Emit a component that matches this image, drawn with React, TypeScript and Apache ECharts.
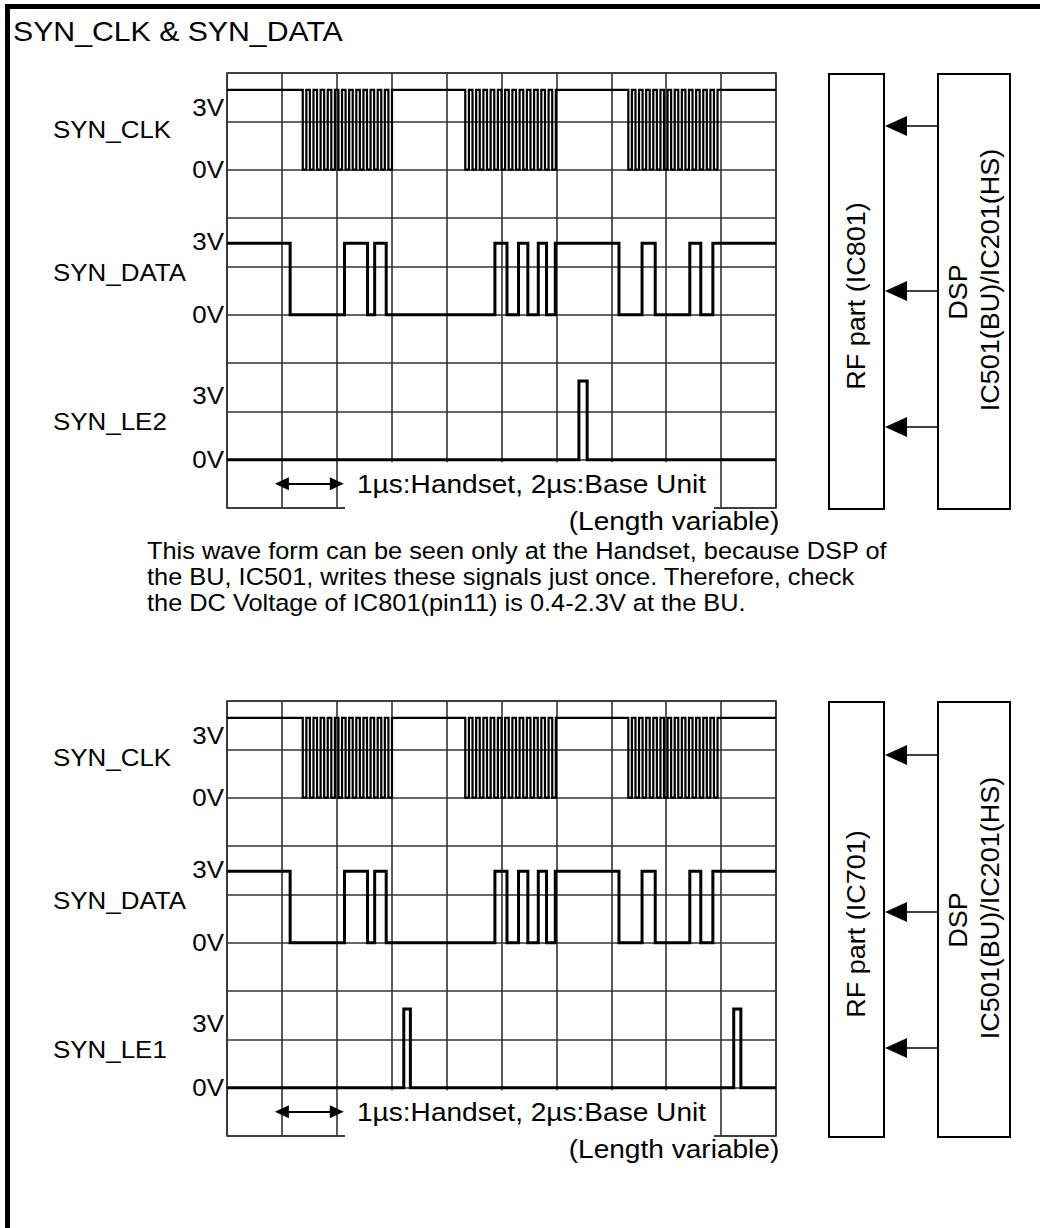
import React, { useEffect, useRef } from "react";
import * as echarts from "echarts";

// ---- data (time in grid divisions, levels in volts) ----
const timeRange = [0, 10];
const lowV = 0;
const highV = 3;
const clkBurst1 = [1.38, 1.445, 1.51, 1.575, 1.64, 1.705, 1.77, 1.835, 1.9, 1.965, 2.03, 2.095, 2.16, 2.225, 2.29, 2.355, 2.42, 2.485, 2.55, 2.615, 2.68, 2.745, 2.81, 2.875, 2.94, 3.005];
const clkBurst2 = [4.34, 4.406, 4.472, 4.538, 4.604, 4.67, 4.736, 4.802, 4.868, 4.934, 5.0, 5.066, 5.132, 5.198, 5.264, 5.33, 5.396, 5.462, 5.528, 5.594, 5.66, 5.726, 5.792, 5.858, 5.924, 5.99];
const clkBurst3 = [7.31, 7.375, 7.44, 7.505, 7.57, 7.635, 7.7, 7.765, 7.83, 7.895, 7.96, 8.025, 8.09, 8.155, 8.22, 8.285, 8.35, 8.415, 8.48, 8.545, 8.61, 8.675, 8.74, 8.805, 8.87, 8.935];
const clkEdges = [...clkBurst1, ...clkBurst2, ...clkBurst3];
const dataEdges = [1.15, 2.14, 2.56, 2.69, 2.9, 4.88, 5.1, 5.31, 5.48, 5.67, 5.82, 5.98, 7.14, 7.56, 7.8, 8.43, 8.63, 8.85];
const le2Edges = [6.41, 6.56];
const le1Edges = [3.22, 3.34, 9.23, 9.36];

const title = "SYN_CLK & SYN_DATA";
const voltLabels = ["3V", "0V"];
const timeNote = "1\u00b5s:Handset, 2\u00b5s:Base Unit";
const lengthNote = "(Length variable)";
const bodyLines = [
  "This wave form can be seen only at the Handset, because DSP of",
  "the BU, IC501, writes these signals just once. Therefore, check",
  "the DC Voltage of IC801(pin11) is 0.4-2.3V at the BU.",
];
const dspLines = ["DSP", "IC501(BU)/IC201(HS)"];

const panels = [
  {
    top: 73,
    rf: "RF part (IC801)",
    arrows: [126, 291, 427],
    signals: [
      { name: "SYN_CLK", edges: clkEdges, startHigh: true },
      { name: "SYN_DATA", edges: dataEdges, startHigh: true },
      { name: "SYN_LE2", edges: le2Edges, startHigh: false },
    ],
  },
  {
    top: 701,
    rf: "RF part (IC701)",
    arrows: [755, 912, 1048],
    signals: [
      { name: "SYN_CLK", edges: clkEdges, startHigh: true },
      { name: "SYN_DATA", edges: dataEdges, startHigh: true },
      { name: "SYN_LE1", edges: le1Edges, startHigh: false },
    ],
  },
];

// ---- layout ----
const FONT = '"Liberation Sans", Arial, Helvetica, sans-serif';
const SX = 1.08;
const GRID_LEFT = 227;
const GRID_W = 549;
const GRID_H = 435;
const ROWS = 9;
const ROW_H = GRID_H / ROWS;
// row where 0V and 3V sit for each of the three signals
const sigRows = [
  { r0: 7, r3: 8.65, nameDy: 56, v3Dy: 34 },
  { r0: 4, r3: 5.48, nameDy: 199, v3Dy: 168 },
  { r0: 1, r3: 2.63, nameDy: 348, v3Dy: 322 },
];
const GRID_COLOR = "#333";

function toSteps(edges: number[], startHigh: boolean) {
  let v = startHigh ? highV : lowV;
  const pts: number[][] = [[timeRange[0], v]];
  for (const t of edges) {
    pts.push([t, v]);
    v = v === highV ? lowV : highV;
    pts.push([t, v]);
  }
  pts.push([timeRange[1], v]);
  return pts;
}

function txt(text: string, x: number, y: number, size: number, align = "left", extra: any = {}) {
  return {
    type: "text",
    x,
    y,
    scaleX: SX,
    z: 120,
    silent: true,
    ...extra,
    style: {
      text,
      fontSize: size,
      fontFamily: FONT,
      fill: "#000",
      align,
      verticalAlign: "middle",
      textAlign: align,
      textVerticalAlign: "middle",
    },
  };
}

function buildOption() {
  const grids: any[] = [];
  const xAxes: any[] = [];
  const yAxes: any[] = [];
  const series: any[] = [];
  const graphics: any[] = [];

  // page border
  graphics.push({ type: "rect", shape: { x: 5, y: 4, width: 5, height: 1224 }, style: { fill: "#000" }, z: 130, silent: true });
  graphics.push({ type: "rect", shape: { x: 5, y: 4, width: 1035, height: 5 }, style: { fill: "#000" }, z: 130, silent: true });
  graphics.push(txt(title, 13, 31, 28));

  panels.forEach((p, pi) => {
    grids.push({
      left: GRID_LEFT,
      top: p.top,
      width: GRID_W,
      height: GRID_H,
      show: true,
      borderColor: GRID_COLOR,
      borderWidth: 1.6,
      backgroundColor: "transparent",
    });
    xAxes.push({
      type: "value",
      gridIndex: pi,
      min: timeRange[0],
      max: timeRange[1],
      interval: 1,
      axisLine: { show: false },
      axisTick: { show: false },
      axisLabel: { show: false },
      splitLine: { show: true, lineStyle: { color: GRID_COLOR, width: 1.6 } },
    });
    yAxes.push({
      type: "value",
      gridIndex: pi,
      min: 0,
      max: ROWS,
      interval: 1,
      axisLine: { show: false },
      axisTick: { show: false },
      axisLabel: { show: false },
      splitLine: { show: true, lineStyle: { color: GRID_COLOR, width: 1.6 } },
    });
    p.signals.forEach((s, si) => {
      const L = sigRows[si];
      const k = (highV - lowV) / (L.r3 - L.r0);
      const yIdx = yAxes.length;
      yAxes.push({
        type: "value",
        gridIndex: pi,
        show: false,
        min: -L.r0 * k,
        max: (ROWS - L.r0) * k,
        splitLine: { show: false },
      });
      const ser: any = {
        type: "line",
        name: s.name + (pi === 0 ? "" : " "),
        xAxisIndex: pi,
        yAxisIndex: yIdx,
        data: toSteps(s.edges, s.startHigh),
        showSymbol: false,
        symbol: "none",
        silent: true,
        z: 5,
        lineStyle: { color: "#000", width: si === 0 ? 2.2 : 3, join: "miter" },
      };
      if (si === 2) {
        const yArrow = (0.5 - L.r0) * k;
        ser.markLine = {
          silent: true,
          symbol: ["triangle", "triangle"],
          symbolSize: [13, 14],
          label: { show: false },
          lineStyle: { color: "#000", width: 2.2, type: "solid" },
          data: [[{ coord: [1, yArrow] }, { coord: [2, yArrow] }]],
        };
      }
      series.push(ser);

      // labels
      graphics.push(txt(s.name, 53, p.top + L.nameDy, 24));
      graphics.push(txt(voltLabels[0], 224, p.top + L.v3Dy, 24, "right"));
      graphics.push(txt(voltLabels[1], 224, p.top + (ROWS - L.r0) * ROW_H, 24, "right"));
    });

    // white area in bottom row hiding grid, with note
    graphics.push({
      type: "rect",
      shape: { x: 345, y: p.top + (ROWS - 1) * ROW_H + 2.5, width: 369, height: ROW_H + 3 },
      style: { fill: "#fff" },
      z: 110,
      silent: true,
    });
    graphics.push(txt(timeNote, 357, p.top + 411, 26));
    graphics.push(txt(lengthNote, 674, p.top + 448, 26, "center"));

    // block diagram
    graphics.push({ type: "rect", shape: { x: 829, y: p.top + 1, width: 55, height: GRID_H }, style: { fill: "none", stroke: "#000", lineWidth: 2 }, z: 120, silent: true });
    graphics.push({ type: "rect", shape: { x: 938, y: p.top + 1, width: 72, height: GRID_H }, style: { fill: "none", stroke: "#000", lineWidth: 2 }, z: 120, silent: true });
    p.arrows.forEach((ay) => {
      graphics.push({ type: "line", shape: { x1: 904, y1: ay, x2: 938, y2: ay }, style: { stroke: "#000", lineWidth: 1.6 }, z: 120, silent: true });
      graphics.push({ type: "polygon", shape: { points: [[885, ay], [907, ay - 10], [907, ay + 10]] }, style: { fill: "#000" }, z: 120, silent: true });
    });
    graphics.push(txt(p.rf, 856, p.top + 223, 25, "center", { rotation: Math.PI / 2 }));
    graphics.push(txt(dspLines[0], 958, p.top + 219, 25, "center", { rotation: Math.PI / 2 }));
    graphics.push(txt(dspLines[1], 990, p.top + 207, 25, "center", { rotation: Math.PI / 2 }));
  });

  bodyLines.forEach((line, i) => {
    graphics.push(txt(line, 147, 551 + i * 26, 23.5));
  });

  return {
    animation: false,
    backgroundColor: "#fff",
    grid: grids,
    xAxis: xAxes,
    yAxis: yAxes,
    series,
    graphic: graphics,
  };
}

export default function App() {
  const ref = useRef<HTMLDivElement>(null);
  useEffect(() => {
    if (!ref.current) return;
    const chart = echarts.init(ref.current, null, { renderer: "svg" });
    chart.setOption(buildOption() as any);
    return () => chart.dispose();
  }, []);
  return (
    <div
      ref={ref}
      style={{ position: "absolute", left: 0, top: 0, width: 1040, height: 1228, background: "#fff" }}
    />
  );
}
